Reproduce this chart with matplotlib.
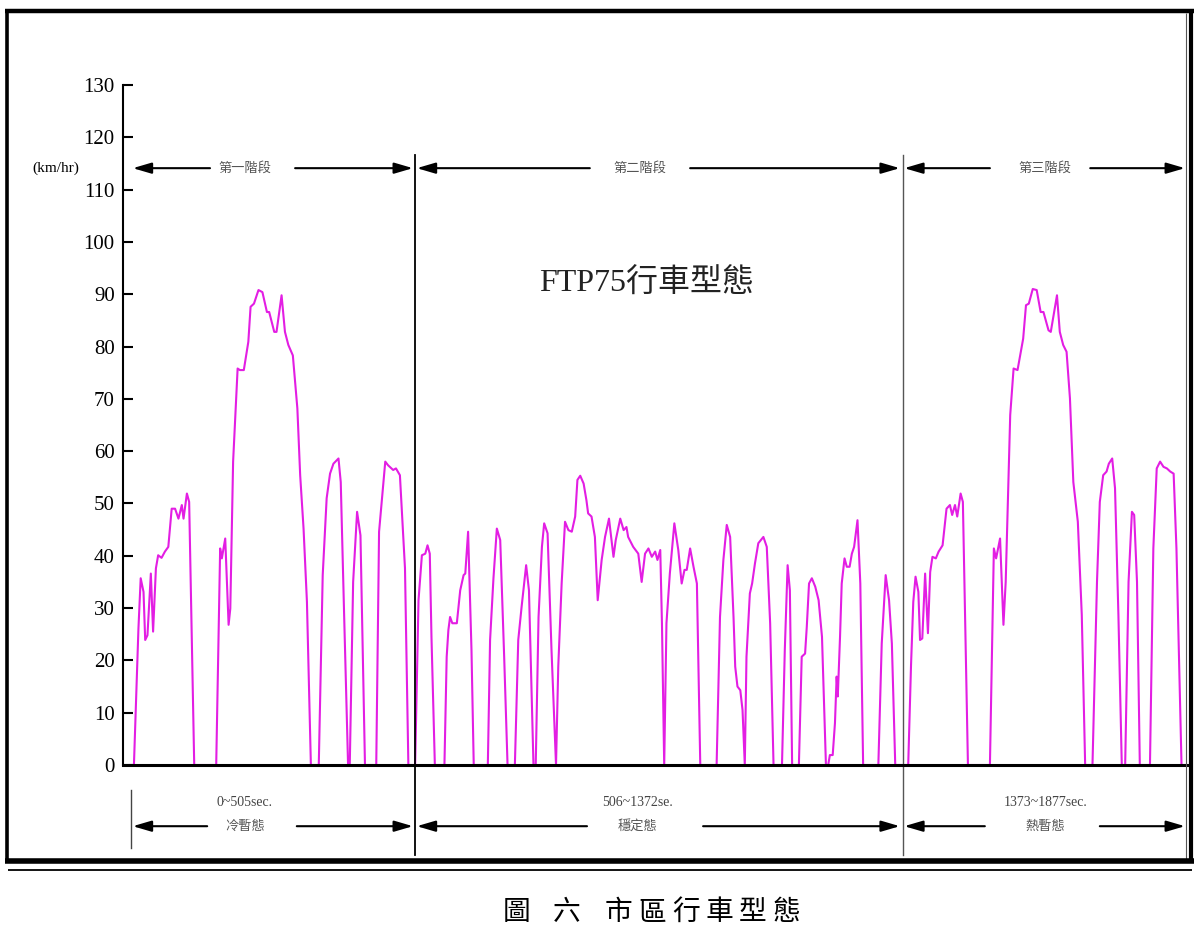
import matplotlib
matplotlib.use('Agg')
import matplotlib.pyplot as plt
from matplotlib.lines import Line2D

plt.rcParams['font.family'] = ['Liberation Serif', 'Noto Sans CJK TC', 'DejaVu Sans']

# ---- data: FTP75 speed trace (seconds, km/h) ----
cold_time = [0, 7, 15, 19, 24, 27, 31, 37, 41, 46,
             50, 56, 62, 68, 74, 80, 86, 92, 95, 101,
             105, 114, 153, 160, 163, 169, 175, 178, 183, 191,
             195, 202, 210, 214, 220, 228, 235, 243, 247, 256,
             260, 269, 275, 281, 289, 293, 297, 302, 308, 314,
             321, 335, 342, 349, 355, 361, 370, 374, 380, 387,
             390, 396, 403, 409, 417, 437, 442, 453, 458, 467,
             472, 479, 488, 494, 504]
cold_speed = [0, 0, 26.1, 35.7, 33.1, 23.9, 24.8, 36.6, 25.5, 37.6,
              40.1, 39.6, 40.8, 41.7, 49.0, 49.0, 47.1, 49.7, 47.1, 51.9,
              50.3, 0, 0, 41.4, 39.5, 43.3, 26.8, 29.9, 58.0, 75.8,
              75.5, 75.5, 80.9, 87.6, 88.2, 90.8, 90.4, 86.6, 86.6, 82.8,
              82.8, 89.8, 82.8, 80.3, 78.3, 73.2, 68.2, 55.4, 45.2, 31.2,
              0, 0, 36.3, 51.0, 55.7, 57.6, 58.6, 54.1, 28.7, 0,
              0, 35.0, 48.4, 43.9, 0, 0, 44.6, 58.0, 57.3, 56.4,
              56.7, 55.4, 37.6, 0, 0]

stab_time = [506, 512, 518, 524, 528, 532, 535, 541, 558, 562,
             565, 568, 572, 580, 586, 592, 595, 600, 606, 610,
             635, 639, 645, 651, 657, 664, 670, 683, 689, 695,
             703, 708, 716, 720, 725, 731, 735, 741, 748, 756,
             760, 766, 772, 778, 784, 790, 794, 799, 805, 810,
             813, 819, 825, 830, 837, 843, 850, 858, 862, 870,
             876, 881, 884, 893, 902, 908, 914, 920, 926, 932,
             936, 941, 944, 948, 952, 958, 966, 973, 979, 984,
             988, 994, 1000, 1006, 1012, 1041, 1047, 1053, 1059, 1065,
             1071, 1074, 1078, 1083, 1087, 1091, 1094, 1100, 1104, 1109,
             1115, 1124, 1130, 1136, 1142, 1157, 1162, 1167, 1171, 1175,
             1187, 1192, 1198, 1201, 1205, 1210, 1216, 1222, 1228, 1235,
             1239, 1242, 1247, 1251, 1254, 1256, 1260, 1263, 1268, 1272,
             1277, 1281, 1285, 1291, 1296, 1301, 1328, 1334, 1341, 1347,
             1352, 1358, 1372]
stab_speed = [0, 31.5, 40.1, 40.4, 42.0, 40.4, 24.5, 0, 0, 20.7,
              25.8, 28.3, 27.1, 27.1, 33.4, 36.3, 36.6, 44.6, 22.0, 0,
              0, 23.9, 35.7, 45.2, 43.0, 20.7, 0, 0, 23.9, 30.3,
              38.2, 33.4, 0, 0, 28.3, 41.7, 46.2, 44.3, 22.0, 0,
              18.8, 34.7, 46.5, 44.9, 44.6, 47.5, 54.5, 55.3, 53.8, 50.6,
              48.1, 47.5, 43.6, 31.5, 39.2, 43.6, 47.1, 39.8, 43.0, 47.1,
              44.9, 45.5, 43.6, 41.7, 40.4, 35.0, 40.4, 41.4, 39.8, 40.8,
              39.2, 41.1, 27.1, 0, 27.1, 36.6, 46.2, 41.1, 34.7, 37.3,
              37.3, 41.4, 37.9, 34.7, 0, 0, 28.3, 39.2, 45.9, 43.6,
              28.3, 18.8, 15.0, 14.3, 10.5, 0, 20.7, 32.8, 34.7, 38.5,
              42.4, 43.6, 41.7, 27.1, 0, 0, 22.0, 38.2, 33.4, 0,
              0, 20.7, 21.3, 26.4, 34.7, 35.7, 34.1, 31.5, 24.5, 0,
              0, 1.9, 1.9, 8.0, 16.9, 13.1, 24.5, 34.7, 39.5, 37.9,
              37.9, 40.4, 41.7, 46.8, 34.7, 0, 0, 23.2, 36.3, 31.5,
              23.2, 0, 0]

hot_time = [1381, 1386, 1390, 1394, 1399, 1402, 1406, 1411, 1416, 1420,
            1424, 1430, 1435, 1442, 1449, 1455, 1459, 1464, 1468, 1474,
            1478, 1487, 1526, 1533, 1537, 1544, 1550, 1554, 1562, 1568,
            1575, 1585, 1590, 1595, 1602, 1609, 1616, 1621, 1630, 1634,
            1645, 1650, 1656, 1662, 1668, 1674, 1682, 1689, 1695, 1708,
            1716, 1721, 1727, 1733, 1737, 1743, 1748, 1754, 1760, 1766,
            1772, 1778, 1782, 1787, 1792, 1810, 1816, 1822, 1828, 1834,
            1840, 1846, 1852, 1857, 1866, 1877]
hot_speed = [0, 19.1, 31.2, 36.0, 33.1, 23.9, 24.2, 36.6, 25.2, 36.9,
             39.8, 39.5, 40.8, 42.0, 49.0, 49.7, 47.8, 49.7, 47.5, 51.9,
             50.3, 0, 0, 41.4, 39.5, 43.3, 26.8, 35.0, 66.9, 75.8,
             75.5, 81.5, 87.9, 88.2, 91.0, 90.8, 86.6, 86.6, 83.1, 82.8,
             89.8, 82.8, 80.3, 79.0, 70.1, 54.1, 46.5, 28.7, 0, 0,
             35.0, 50.3, 55.4, 56.1, 57.6, 58.6, 52.9, 28.7, 0, 0,
             35.0, 48.4, 47.8, 35.0, 0, 0, 41.4, 56.7, 58.0, 57.0,
             56.7, 56.1, 55.7, 41.4, 0, 0]

phase_labels = ['第一階段', '第二階段', '第三階段']
range_labels = ['0~505sec.', '506~1372se.', '1373~1877sec.']
state_labels = ['冷暫態', '穩定態', '熱暫態']
y_ticks = list(range(0, 131, 10))
caption_chars = ['圖', '六', '市', '區', '行', '車', '型', '態']

time_s = cold_time + stab_time + hot_time
speed = cold_speed + stab_speed + hot_speed
assert len(time_s) == len(speed)

W, H = 1200, 940
fig = plt.figure(figsize=(W / 100, H / 100), dpi=100)
fig.patch.set_facecolor('white')
ax = fig.add_axes([123 / W, 1 - 765 / H, (1188 - 123) / W, (765 - 85) / H])
ax.set_xlim(-12.4, 1877.5)
ax.set_ylim(0, 130)
ax.plot(time_s, speed, color='#e31ee3', lw=1.5, solid_joinstyle='round')

for s in ['top', 'right']:
    ax.spines[s].set_visible(False)
ax.spines['left'].set_linewidth(1.5)
ax.spines['bottom'].set_linewidth(2.2)
ax.set_xticks([])
ax.set_yticks(y_ticks)
ax.tick_params(axis='y', direction='in', length=7, width=1.5, labelsize=15, pad=6)
for lab in ax.get_yticklabels():
    lab.set_family('Liberation Serif')

# phase boundary lines
ax.plot([505, 505], [-17.2, 116.6], color='black', lw=1.3, clip_on=False)
ax.plot([1372, 1372], [-17.2, 116.6], color='#555555', lw=1.0, clip_on=False)
ax.plot([1.8, 1.8], [-4.8, -15.9], color='#444444', lw=1.0, clip_on=False)

def arrow(x_tail, x_head, y):
    ax.annotate('', xy=(x_head, y), xytext=(x_tail, y), annotation_clip=False,
                arrowprops=dict(arrowstyle='-|>,head_length=0.75,head_width=0.22',
                                color='black', lw=1.5, mutation_scale=15,
                                shrinkA=0, shrinkB=0))

y_top, y_bot, y_rng = 114.1, -11.7, -7.1
# top arrows
for tail, head in [(142, 5), (293, 502), (816, 509), (994, 1366), (1526, 1374), (1704, 1872)]:
    arrow(tail, head, y_top)
# bottom arrows
for tail, head in [(137, 5), (296, 502), (811, 509), (1017, 1366), (1517, 1374), (1721, 1872)]:
    arrow(tail, head, y_bot)

centers_top = [204, 905, 1624]
centers_bot = [204, 900, 1624]
for cx, lab in zip(centers_top, phase_labels):
    ax.text(cx, y_top, lab, ha='center', va='center', fontsize=9.5, color='#555555',
            family=['Noto Sans CJK TC'], clip_on=False)
for cx, r, s in zip(centers_bot, range_labels, state_labels):
    ax.text(cx, y_rng, r, ha='center', va='center', fontsize=10, color='#444444',
            family=['Liberation Serif'], clip_on=False)
    ax.text(cx, y_bot, s, ha='center', va='center', fontsize=9.5, color='#555555',
            family=['Noto Sans CJK TC'], clip_on=False)

ax.text(916, 92, 'FTP75行車型態', ha='center', va='center', fontsize=23, color='#222222',
        family=['Liberation Serif', 'Noto Sans CJK TC'])

fig.text(56 / W, 1 - 168 / H, '(km/hr)', ha='center', va='center', fontsize=11,
         family=['Liberation Serif'])

# outer frame
def fline(x1, y1, x2, y2, lw, color='black'):
    fig.add_artist(Line2D([x1 / W, x2 / W], [1 - y1 / H, 1 - y2 / H],
                          transform=fig.transFigure, color=color, lw=lw,
                          solid_capstyle='butt'))

fline(5, 11, 1194, 11, 3.2)
fline(7, 9, 7, 863, 2.6)
fline(1191, 9, 1191, 863, 3.0)
fline(1186, 13, 1186, 860, 0.8, '#555555')
fline(5, 861, 1194, 861, 4.0)
fline(8, 870, 1192, 870, 1.3)

# caption, one glyph at a time to keep the original spacing
cap_x = [517, 567, 619, 652.5, 686, 719.5, 753, 786.5]
cap_kw = dict(ha='center', va='center', fontsize=20, family=['Noto Sans CJK TC'])
for cx, ch in zip(cap_x, caption_chars):
    fig.text(cx / W, 1 - 912 / H, ch, **cap_kw)

fig.savefig('out.png', dpi=100, facecolor='white')
